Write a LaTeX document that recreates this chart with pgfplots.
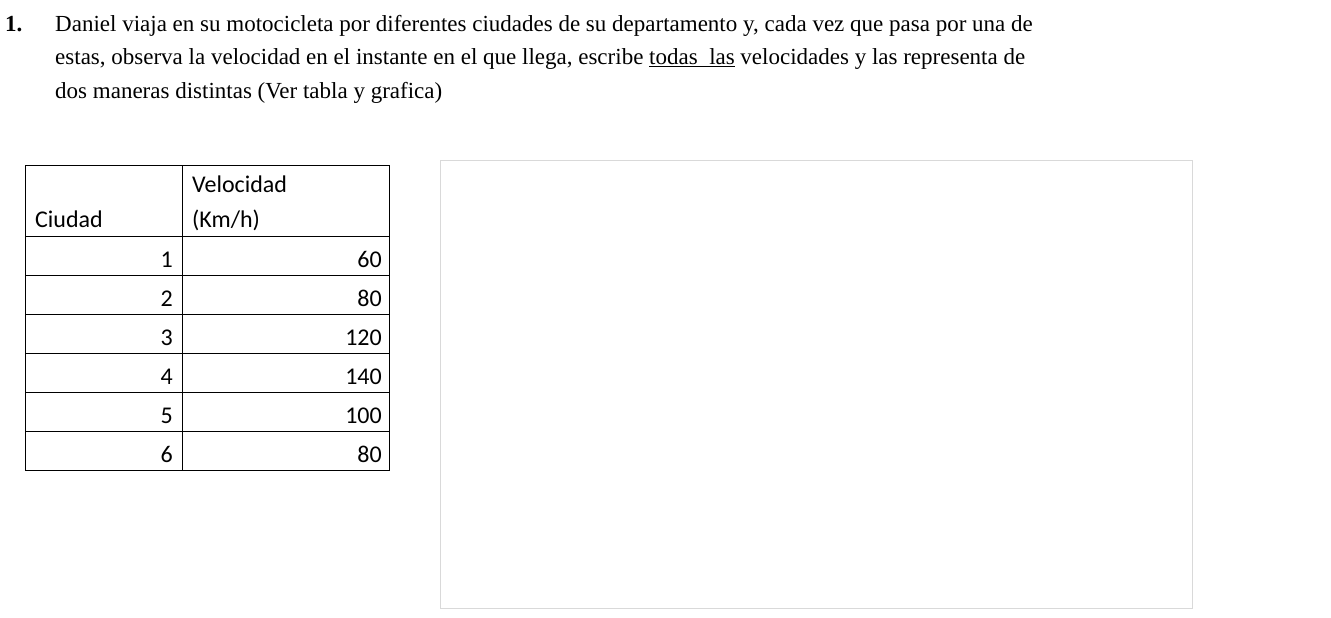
\documentclass[border=0pt]{standalone}
\usepackage{pgfplots}
\pgfplotsset{compat=1.18}
\usepackage{fontspec}
\setmainfont{Liberation Serif}
\newfontfamily\calfont{Carlito}
\definecolor{ser}{HTML}{4472C4}
\definecolor{grd}{HTML}{D9D9D9}
\definecolor{tk}{HTML}{595959}
\begin{document}
\begin{tikzpicture}[x=1pt,y=-1pt]
\path[fill=white] (0,0) rectangle (1331,618);
\clip (0,0) rectangle (1331,618);
% text
\begin{scope}[every node/.style={anchor=base west,inner sep=0pt,font=\fontsize{23}{28}\selectfont}]
\node at (5,32) {\textbf{1.}};
\node at (55,32) {Daniel viaja en su motocicleta por diferentes ciudades de su departamento y, cada vez que pasa por una de};
\node at (55,65) {estas, observa la velocidad en el instante en el que llega, escribe \underline{todas\ \ las} velocidades y las representa de};
\node at (55,99) {dos maneras distintas (Ver tabla y grafica)};
\end{scope}
% table
\draw[line width=0.8pt] (25,165) rectangle (389,470);
\draw[line width=0.8pt] (182,165) -- (182,470);
\foreach \y in {236,275,314,353,392,431} \draw[line width=0.8pt] (25,\y) -- (389,\y);
\begin{scope}[every node/.style={inner sep=0pt,font=\calfont\fontsize{24}{28}\selectfont}]
\node[anchor=base west] at (35,227) {Ciudad};
\node[anchor=base west] at (192,192) {Velocidad};
\node[anchor=base west] at (192,227) {(Km/h)};
\foreach \c/\v [count=\i from 0] in {1/60,2/80,3/120,4/140,5/100,6/80}{
  \node[anchor=base east] at (173,{267+39*\i}) {\c};
  \node[anchor=base east] at (382,{267+39*\i}) {\v};
}
\end{scope}
% chart frame
\draw[grd,line width=0.8pt] (440,160) rectangle (1192,608);
\begin{axis}[at={(568,493)},anchor=south west,scale only axis,
  width=589pt,height=305pt,xmin=0,xmax=7,ymin=0,ymax=160,
  xtick={0,...,7},ytick={0,20,...,160},
  grid=major,grid style={grd,line width=0.8pt},
  axis line style={draw=none},
  major tick length=0pt,
  tick label style={font=\calfont\fontsize{18}{20}\selectfont,text=tk},
  /pgf/number format/assume math mode=true,
  xticklabel style={yshift=-14pt},
  yticklabel style={xshift=-6pt},
  xlabel={Ciudad},ylabel={Velocidad(km/h)},
  label style={font=\calfont\fontsize{20}{22}\selectfont,text=tk},
  xlabel style={yshift=-6pt},
  clip=false]
\draw[grd,line width=1pt] (axis cs:0,0) -- (axis cs:7,0);
\addplot[ser,line width=2.5pt,mark=*,mark size=5.5pt,mark options={fill=ser,draw=ser}]
 coordinates {(1,60)(2,80)(3,120)(4,140)(5,100)(6,80)};
\end{axis}
\end{tikzpicture}
\end{document}
